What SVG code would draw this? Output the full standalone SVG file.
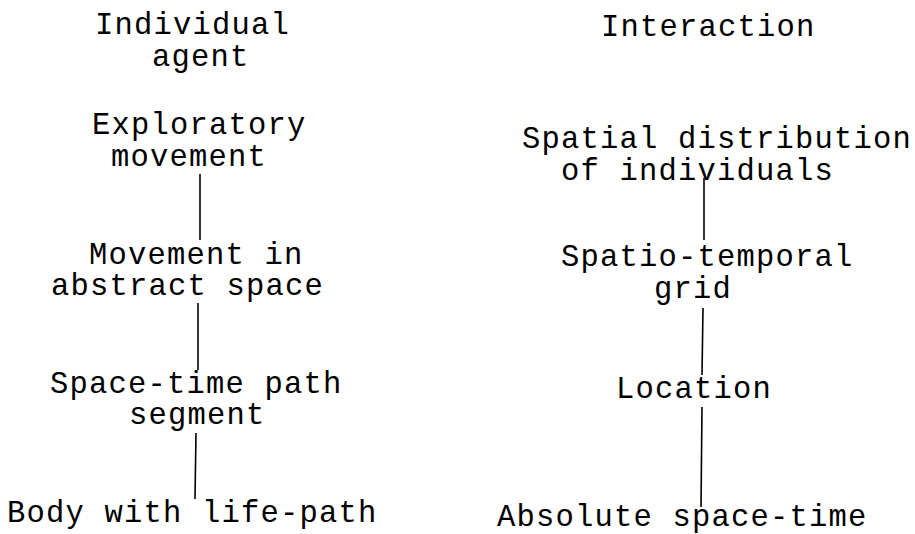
<svg xmlns="http://www.w3.org/2000/svg" width="915" height="534" viewBox="0 0 915 534">
<style>
text{font-family:"Liberation Mono","Courier New",monospace;font-size:30.5px;letter-spacing:1.2px;fill:#000}
.c{stroke:#000;stroke-width:1.6;fill:none}
</style>
<rect width="915" height="534" fill="#fff"/>
<g id="connectors">
<line class="c" x1="200" y1="174" x2="200" y2="240"/>
<line class="c" x1="198" y1="303" x2="198" y2="370"/>
<line class="c" x1="196" y1="433" x2="195" y2="499"/>
<line class="c" x1="704" y1="178" x2="704" y2="240"/>
<line class="c" x1="703" y1="308" x2="702" y2="375"/>
<line class="c" x1="702" y1="407" x2="701" y2="507"/>
</g>
<g id="individual-agent"><text x="95" y="34">Individual</text><text x="152" y="66">agent</text></g>
<g id="exploratory-movement"><text x="92" y="134">Exploratory</text><text x="111" y="166">movement</text></g>
<g id="movement-abstract"><text x="89" y="264">Movement in</text><text x="51" y="295">abstract space</text></g>
<g id="space-time-path"><text x="50" y="393">Space-time path</text><text x="129" y="424">segment</text></g>
<g id="body-life-path"><text x="7" y="522">Body with life-path</text></g>
<g id="interaction"><text x="601" y="36">Interaction</text></g>
<g id="spatial-distribution"><text x="522" y="148">Spatial distribution</text><text x="561" y="180">of individuals</text></g>
<g id="spatio-temporal-grid"><text x="561" y="266">Spatio-temporal</text><text x="654" y="298">grid</text></g>
<g id="location"><text x="616" y="398">Location</text></g>
<g id="absolute-space-time"><text x="497" y="526">Absolute space-time</text></g>
</svg>
